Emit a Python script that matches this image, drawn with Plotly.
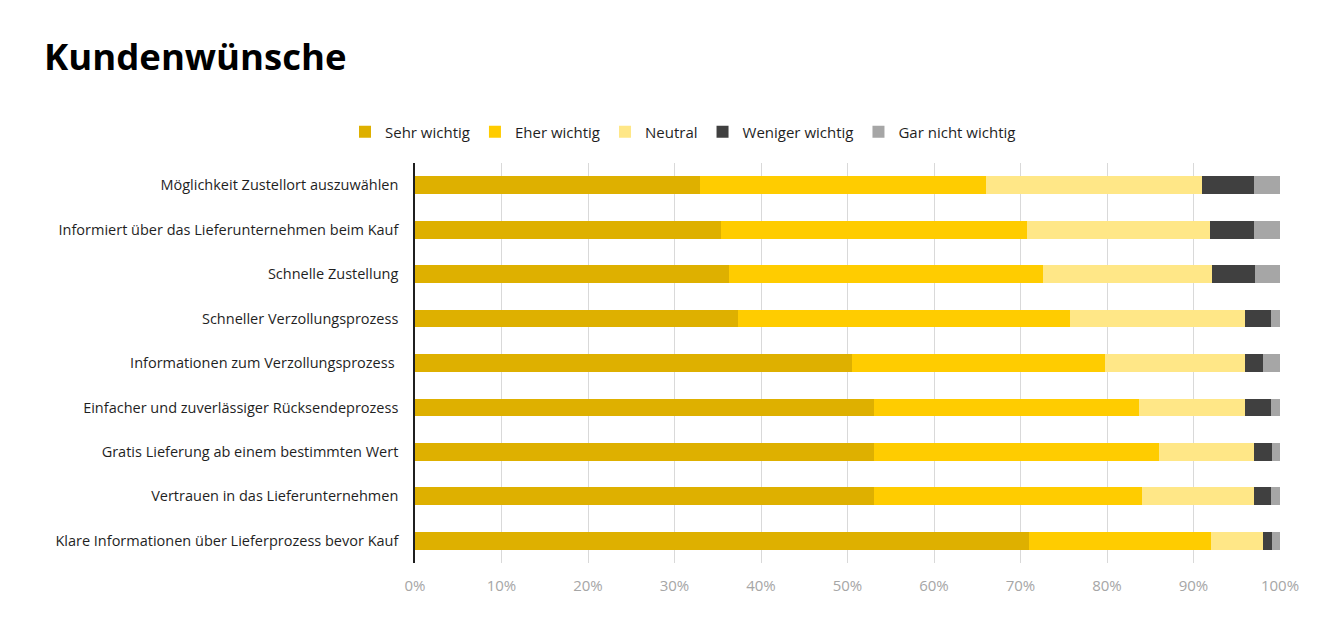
import plotly.graph_objects as go

categories = [
    "Möglichkeit Zustellort auszuwählen",
    "Informiert über das Lieferunternehmen beim Kauf",
    "Schnelle Zustellung",
    "Schneller Verzollungsprozess",
    "Informationen zum Verzollungsprozess ",
    "Einfacher und zuverlässiger Rücksendeprozess",
    "Gratis Lieferung ab einem bestimmten Wert",
    "Vertrauen in das Lieferunternehmen",
    "Klare Informationen über Lieferprozess bevor Kauf",
]

series_names = ["Sehr wichtig", "Eher wichtig", "Neutral", "Weniger wichtig", "Gar nicht wichtig"]

sehr_wichtig = [33.0, 35.4, 36.3, 37.3, 50.5, 53.1, 53.1, 53.1, 71.0]
eher_wichtig = [33.0, 35.4, 36.3, 38.4, 29.3, 30.6, 32.9, 30.9, 21.0]
neutral = [25.0, 21.1, 19.5, 20.3, 16.2, 12.3, 11.0, 13.0, 6.0]
weniger_wichtig = [6.0, 5.1, 5.0, 3.0, 2.0, 3.0, 2.1, 2.0, 1.1]
gar_nicht_wichtig = [3.0, 3.0, 2.9, 1.0, 2.0, 1.0, 0.9, 1.0, 0.9]

tick_values = [0, 10, 20, 30, 40, 50, 60, 70, 80, 90, 100]
tick_labels = ["0%", "10%", "20%", "30%", "40%", "50%", "60%", "70%", "80%", "90%", "100%"]

colors = ["#DEB000", "#FFCC00", "#FFE787", "#404040", "#A6A6A6"]

FONT = "Segoe UI, Open Sans, sans-serif"

W, H = 1325, 628  # page body adds an 8px offset

fig = go.Figure()
for name, vals, col in zip(series_names,
                           [sehr_wichtig, eher_wichtig, neutral, weniger_wichtig, gar_nicht_wichtig],
                           colors):
    fig.add_trace(go.Bar(
        y=categories, x=vals, name=name, orientation="h",
        marker=dict(color=col, line=dict(width=0)),
    ))

fig.update_layout(
    barmode="stack",
    bargap=0.6,
    width=W, height=H,
    paper_bgcolor="white", plot_bgcolor="white",
    margin=dict(l=407, r=53, t=155, b=73),
    font=dict(family=FONT, size=14.5, color="#1F1F1F"),
    title=dict(
        text="<b>Kundenwünsche</b>",
        font=dict(family=FONT, size=36.5, color="#000000"),
        x=36 / W, xanchor="left", xref="container",
        y=1 - 49 / H, yanchor="middle", yref="container",
    ),
    legend=dict(
        orientation="h",
        x=675 / W, xanchor="center", xref="container",
        y=1 - 124 / H, yanchor="middle", yref="container",
        font=dict(family=FONT, size=15, color="#1F1F1F"),
        traceorder="normal",
        itemwidth=30,
    ),
    showlegend=True,
)

fig.update_xaxes(
    range=[0, 100],
    tickvals=tick_values, ticktext=tick_labels,
    showgrid=True, gridcolor="#D9D9D9", gridwidth=1,
    zeroline=False, showline=False,
    tickfont=dict(family=FONT, size=15, color="#A6A6A6"),
    ticks="", ticklabelstandoff=12,
)
fig.update_yaxes(
    autorange="reversed",
    showline=True, linecolor="#1F1F1F", linewidth=1.5,
    showgrid=False, zeroline=False,
    ticks="", ticklabelstandoff=12,
    tickfont=dict(family=FONT, size=14.5, color="#1F1F1F"),
)

fig.write_html("out.html")
